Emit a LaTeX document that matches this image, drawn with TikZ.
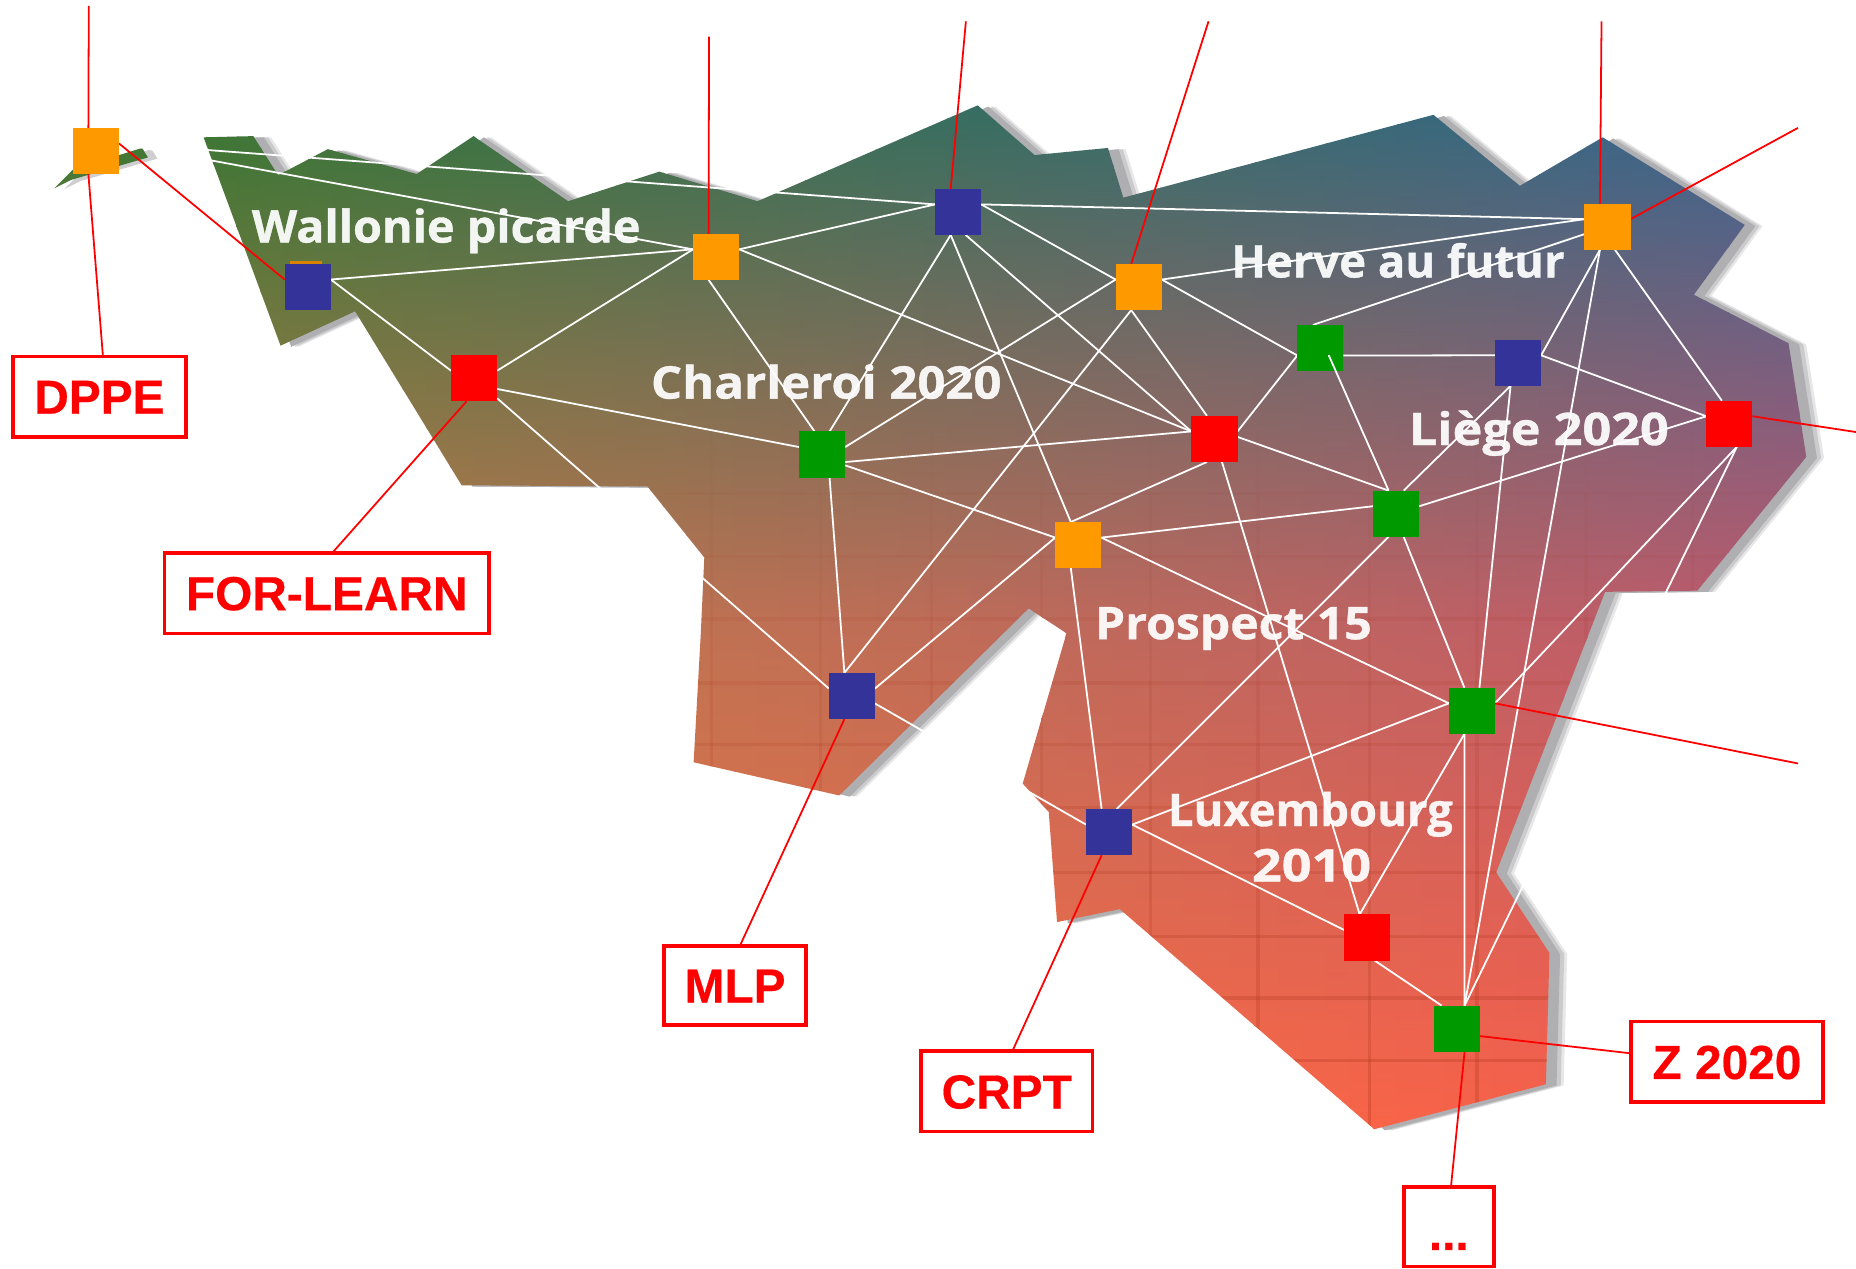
\documentclass[tikz,border=0pt]{standalone}
\usepackage{fontspec}
\setmainfont[BoldFeatures={FakeBold=0.4}]{Liberation Sans}
\newfontfamily\mapfont[BoldFeatures={FakeBold=0.8}]{Open Sans}
\pgfdeclarelayer{bg}
\pgfdeclarelayer{fg}
\pgfsetlayers{bg,main,fg}
\definecolor{TL}{RGB}{52,118,50}
\definecolor{TR}{RGB}{50,100,150}
\definecolor{ML}{RGB}{190,125,70}
\definecolor{MR}{RGB}{190,88,110}
\definecolor{BL}{RGB}{250,125,60}
\definecolor{BR}{RGB}{250,90,75}
\definecolor{qblue}{RGB}{51,51,153}
\definecolor{qorange}{RGB}{255,153,0}
\definecolor{qgreen}{RGB}{0,153,0}
\definecolor{qred}{RGB}{255,0,0}
\definecolor{shadowgray}{RGB}{175,175,178}
\definecolor{gridc}{RGB}{160,45,20}
\tikzset{
  sq/.style={rectangle,minimum width=39pt,minimum height=39pt,inner sep=0pt,outer sep=0pt,draw=none},
  wl/.style={draw=white,line width=1.5pt},
  rl/.style={draw=qred,line width=1.5pt},
  lab/.style={rectangle,draw=qred,line width=3pt,fill=white,text=qred,inner sep=0pt,outer sep=0pt,
     font=\fontsize{40.4}{40}\selectfont\bfseries,text height=29pt,text depth=0pt},
  maptext/.style={text=white,font=\mapfont\fontsize{38}{40}\selectfont\bfseries,inner sep=0pt,text opacity=.93},
}
\def\mainpoly{(172,116)--(214,115)--(235,148)--(277,126)--(352,147)--(400,115)--(480,170)--(557,145)--(640,170)--(826,89)--(874,131)--(936,125)--(949,167)--(1211,97)--(1284,157)--(1354,116)--(1474,190)--(1431,249)--(1511,290)--(1526,386)--(1434,499)--(1356,500)--(1264,737)--(1309,805)--(1306,916)--(1161,954)--(946,768)--(893,779)--(886,686)--(864,662)--(901,535)--(869,514)--(709,672)--(586,644)--(592,536)--(595,471)--(547,411)--(390,410)--(300,263)--(237,292)--cycle}
\def\islet{(46,159)--(62,143)--(120,125)--(125,133)--(60,152)--cycle}
\begin{document}
\begin{tikzpicture}[x=1pt,y=-1pt]
\useasboundingbox (0,0) rectangle (1568,1071.3);
% squares
\node[sq,fill=qorange] (A) at (81,127.5) {};
\node[sq,fill=qblue] (B) at (260,242.5) {};
\node[sq,fill=qred] (C) at (400.5,319.5) {};
\node[sq,fill=qorange] (D) at (605,217) {};
\node[sq,fill=qblue] (E) at (809.5,179) {};
\node[sq,fill=qorange] (F) at (962,242.5) {};
\node[sq,fill=qorange] (G) at (1358,191.5) {};
\node[sq,fill=qgreen] (H) at (1115.5,294) {};
\node[sq,fill=qblue] (I) at (1282.5,306.5) {};
\node[sq,fill=qred] (J) at (1461,358) {};
\node[sq,fill=qred] (K) at (1026,370.8) {};
\node[sq,fill=qgreen] (L) at (694.5,384) {};
\node[sq,fill=qorange] (M) at (911,460.5) {};
\node[sq,fill=qgreen] (N) at (1179.5,434) {};
\node[sq,fill=qgreen] (O) at (1243.5,600.5) {};
\node[sq,fill=qblue] (P) at (719.7,588) {};
\node[sq,fill=qblue] (Q) at (937,703) {};
\node[sq,fill=qred] (R) at (1155,792) {};
\node[sq,fill=qgreen] (S) at (1231,869) {};
% labels
\node[lab,minimum width=146pt,minimum height=68pt] (dppe) at (84,335) {DPPE};
\node[lab,minimum width=274pt,minimum height=68pt] (forlearn) at (276,501) {FOR-LEARN};
\node[lab,minimum width=120pt,minimum height=67pt] (mlp) at (621,832.5) {MLP};
\node[lab,minimum width=145pt,minimum height=68pt] (crpt) at (850.5,922) {CRPT};
\node[lab,minimum width=162pt,minimum height=68pt] (ztwenty) at (1459,897) {Z 2020};
\node[lab,minimum width=76pt,minimum height=67pt] (dots) at (1224,1036.5) {\raisebox{-5pt}{...}};
% free ends
\coordinate (a0) at (75,5);
\coordinate (d0) at (599,31);
\coordinate (e0) at (816,18);
\coordinate (f0) at (1021,18);
\coordinate (g0) at (1353,18);
\coordinate (g1) at (1519,108);
\coordinate (j1) at (1568,365);
\coordinate (o1) at (1519,645);
\begin{pgfonlayer}{bg}
  % shadow
  \fill[shadowgray,opacity=.3] [shift={(15,1)}] \mainpoly;
  \fill[shadowgray,opacity=.5] [shift={(12.5,1)}] \mainpoly;
  \fill[shadowgray] [shift={(9,1)}] \mainpoly;
  \fill[shadowgray,opacity=.6] [shift={(8,1)}] \islet;
  % map
  \begin{scope}
    \clip \mainpoly \islet;
    \foreach \i in {0,...,76} {
      \pgfmathsetmacro{\xx}{40+20*\i}
      \pgfmathsetmacro{\p}{max(0,min(100,(\xx-140)/14.2))}
      \pgfmathsetmacro{\xy}{\xx+21}
      \colorlet{ct}{TR!\p!TL}
      \colorlet{cm}{MR!\p!ML}
      \colorlet{cb}{BR!\p!BL}
      \shade[top color=ct,bottom color=cb,middle color=cm] (\xx,80) rectangle (\xy,970);
    }
    \foreach \yy in {417,470,523,577,629,682,737,791,843,896} {
      \pgfmathsetmacro{\op}{(\yy-330)/566*0.24}
      \draw[gridc,line width=3pt,opacity=\op] (560,\yy) -- (1530,\yy);
    }
    \foreach \yy/\yz in {364/417,417/470,470/523,523/577,577/629,629/682,682/737,737/791,791/843,843/896,896/970} {
      \pgfmathsetmacro{\op}{(\yy-330)/566*0.24}
      \foreach \xx in {601,693,787,880,972,1063,1157,1248,1340,1430}
        \draw[gridc,line width=3pt,opacity=\op] (\xx,\yy) -- (\xx,\yz);
    }
  \end{scope}
  % place names
  \node[maptext] (t1) at (377,195) {\scalebox{1.04}[1]{Wallonie picarde}};
  \node[maptext] (t2) at (698,322.5) {\scalebox{1.09}[1]{Charleroi 2020}};
  \node[maptext] (t3) at (1181,220) {\scalebox{1.01}[1]{Herve au futur}};
  \node[maptext] (t4) at (1300,366) {\scalebox{1.12}[1]{Liège 2020}};
  \node[maptext] (t5) at (1042,531) {\scalebox{1.07}[1]{Prospect 15}};
  \node[maptext] (t6) at (1107,688) {\scalebox{1.01}[1]{Luxembourg}};
  \node[maptext] (t7) at (1108,731) {\scalebox{1.16}[1]{2010}};
  % hidden orange square behind B
  \fill[qorange!85!black] (245,220.5) rectangle (272,224);
  % white links
  \foreach \a/\b in {
    A.18/E.162, A.18/D.162,
    B.18/D.162, B.18/C.162,
    C.18/D.162, C.335/L.162, C.319/P.162,
    D.18/E.162, D.252/L.108, D.18/K.162,
    E.18/G.162, E.18/F.162, E.252/L.72, E.288/K.162, E.252/M.108,
    F.18/G.162, F.18/H.198, F.162/L.18, F.252/P.108, F.252/K.108,
    G.198/H.108, G.252/I.18, G.288/J.108, G.252/S.72,
    H.342/I.162, H.198/K.18,
    I.18/J.162, I.252/N.72, I.252/O.72,
    J.162/N.18, J.288/O.18, J.288/S.72,
    K.162/L.342, K.5/N.108, K.252/M.108, K.288/R.108,
    L.335/M.162, L.288/P.108,
    M.18/N.162, M.18/O.162, M.162/P.18, M.252/Q.108,
    N.252/Q.72, N.288/O.108,
    O.162/Q.18, O.252/R.108, O.252/S.72,
    P.342/Q.162,
    Q.18/R.162, R.288/S.124
  } \draw[wl] (\a) -- (\b);
  % red links
  \draw[rl] (a0) -- (A.108);
  \draw[rl] (A.252) -- (dppe.85);
  \draw[rl] (A.18) -- (B.162);
  \draw[rl] (d0) -- (D.108);
  \draw[rl] (e0) -- (E.108);
  \draw[rl] (f0) -- (F.108);
  \draw[rl] (g0) -- (G.108);
  \draw[rl] (g1) -- (G.18);
  \draw[rl] (j1) -- (J.18);
  \draw[rl] (o1) -- (O.18);
  \draw[rl] (C.252) -- (forlearn.82);
  \draw[rl] (P.252) -- (mlp.83);
  \draw[rl] (Q.252) -- (crpt.82);
  \draw[rl] (S.342) -- (ztwenty.175);
  \draw[rl] (S.288) -- (dots.87);
\end{pgfonlayer}
\begin{pgfonlayer}{fg}
  \draw[wl] ([shift={(7,6)}]H.center) -- (N.108);
\end{pgfonlayer}
\end{tikzpicture}
\end{document}
